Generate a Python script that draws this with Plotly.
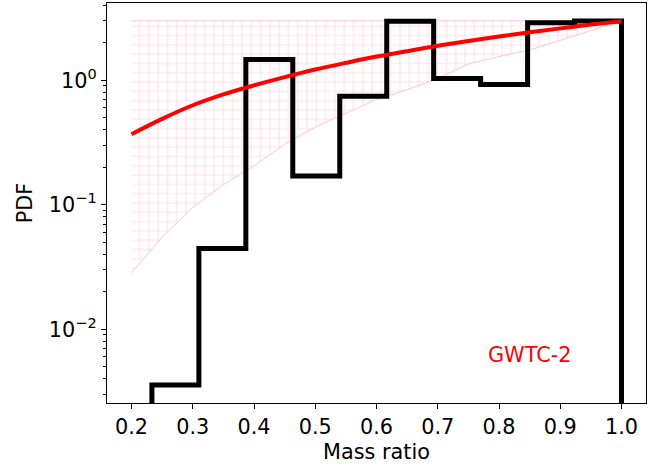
import numpy as np
import plotly.graph_objects as go

# ---------------- data ----------------
# histogram (step) of mass ratio, 10 equal-width bins
bin_edges = [0.2333, 0.3100, 0.3867, 0.4633, 0.5400, 0.6167,
             0.6933, 0.7700, 0.8467, 0.9233, 1.0000]
bin_values = [0.00357, 0.0446, 1.466, 0.1706, 0.744,
              2.976, 1.032, 0.924, 2.90, 2.99]

# GWTC-2 power-law fit (median curve)
curve_q = [0.20, 0.25, 0.30, 0.35, 0.40, 0.45, 0.50, 0.55, 0.60, 0.65,
           0.70, 0.75, 0.80, 0.85, 0.90, 0.95, 1.00]
curve_pdf = [0.369, 0.49, 0.63, 0.77, 0.91, 1.06, 1.22, 1.38, 1.55, 1.71,
             1.89, 2.07, 2.25, 2.43, 2.61, 2.80, 2.98]

# credible band (hatched)
band_q = [0.20, 0.25, 0.30, 0.35, 0.40, 0.45, 0.50, 0.55, 0.60,
          0.65, 0.70, 0.75, 0.80, 0.85, 0.90, 0.95, 1.00]
band_lower = [0.0283, 0.055, 0.095, 0.145, 0.205, 0.305, 0.42, 0.54, 0.70,
              0.84, 1.03, 1.35, 1.55, 1.75, 2.10, 2.50, 2.98]
band_upper = [3.0] * len(band_q)

x_ticks = [0.2, 0.3, 0.4, 0.5, 0.6, 0.7, 0.8, 0.9, 1.0]
x_ticktext = ["0.2", "0.3", "0.4", "0.5", "0.6", "0.7", "0.8", "0.9", "1.0"]
y_ticks = [0.01, 0.1, 1.0]
y_ticktext = ["10<sup>−2</sup>", "10<sup>−1</sup>", "10<sup>0</sup>"]
y_minor = [m * 10.0 ** k for k in (-3, -2, -1, 0) for m in range(2, 10)]

X_RANGE = [0.16, 1.04]
Y_RANGE = [-2.592, 0.6204]  # log10 units

label_text = "GWTC-2"
x_title = "Mass ratio"
y_title = "PDF"

# ---------------- figure ----------------
FONT = "DejaVu Sans"
FS = 20.8

fig = go.Figure()

# hatched band polygon
poly_x = list(band_q) + list(band_q[::-1])
poly_y = list(band_upper) + list(band_lower[::-1])
fig.add_trace(go.Scatter(
    x=poly_x, y=poly_y, mode="lines", fill="toself",
    line=dict(color="rgba(255,192,203,0.9)", width=1),
    fillcolor="rgba(0,0,0,0)",
    fillpattern=dict(shape="+", fgcolor="#ffc0cb", bgcolor="rgba(0,0,0,0)",
                     size=9.3, solidity=0.22),
    hoverinfo="skip", showlegend=False))

# step histogram
floor = 10 ** (Y_RANGE[0] - 1)
step_x = [bin_edges[0]] + list(bin_edges[:-1]) + [bin_edges[-1], bin_edges[-1]]
step_y = [floor] + list(bin_values) + [bin_values[-1], floor]
fig.add_trace(go.Scatter(
    x=step_x, y=step_y, mode="lines", line_shape="hv",
    line=dict(color="black", width=5), showlegend=False))

# red curve
fig.add_trace(go.Scatter(
    x=curve_q, y=curve_pdf, mode="lines", line_shape="spline",
    line=dict(color="red", width=4), showlegend=False))

fig.add_annotation(text=label_text, xref="paper", yref="paper",
                   x=0.784, y=0.12, xanchor="center", yanchor="middle",
                   showarrow=False, font=dict(family=FONT, size=FS, color="red"))

axis_common = dict(showline=True, mirror=True, linecolor="black", linewidth=1.1,
                   ticks="outside", ticklen=5, tickwidth=1.1, tickcolor="black",
                   showgrid=False, zeroline=False, automargin=False,
                   tickfont=dict(family=FONT, size=FS, color="black"))

fig.update_layout(
    width=662, height=466,
    margin=dict(l=107, r=16, t=3, b=63),
    paper_bgcolor="white", plot_bgcolor="white",
    font=dict(family=FONT, size=FS, color="black"),
    xaxis=dict(range=X_RANGE, tickmode="array", tickvals=x_ticks,
               ticktext=x_ticktext,
               title=dict(text=x_title, standoff=6,
                          font=dict(family=FONT, size=FS, color="black")),
               **axis_common),
    yaxis=dict(type="log", range=Y_RANGE, tickmode="array", tickvals=y_ticks,
               ticktext=y_ticktext,
               minor=dict(ticks="outside", ticklen=3, tickwidth=0.9,
                          tickcolor="black", tickmode="array", tickvals=y_minor,
                          showgrid=False),
               title=dict(text=y_title, standoff=10,
                          font=dict(family=FONT, size=FS, color="black")),
               **axis_common),
)

fig.write_html("out.html",
               config={"displayModeBar": False},
               post_script="document.body.style.margin='0';document.body.style.padding='0';")
